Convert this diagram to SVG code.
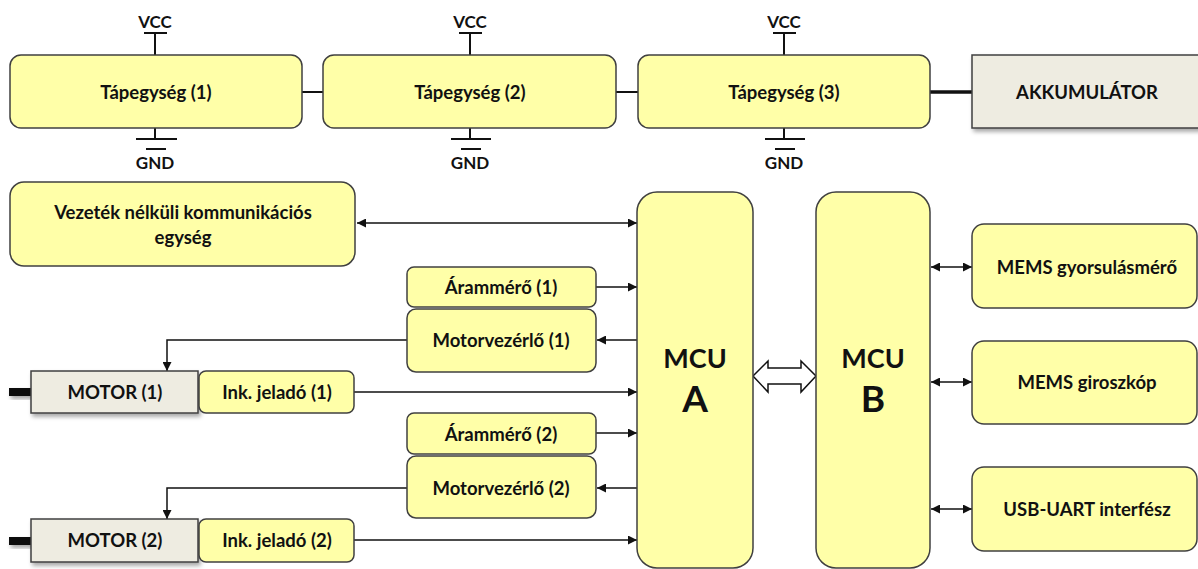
<svg xmlns="http://www.w3.org/2000/svg" width="1198" height="569" viewBox="0 0 1198 569">
<style>
.y{fill:#FFFFA8;stroke:#404040;stroke-width:1.5}
.g{fill:#EEECE1;stroke:#404040;stroke-width:1.5}
.t{font-family:Lato,"Open Sans","Liberation Sans",sans-serif;font-weight:bold;font-size:18.5px;fill:#111;text-anchor:middle}
.s{font-size:17px}
.big{font-size:27px}
.huge{font-size:37px}
.c{stroke:#111;stroke-width:1.5;fill:none}
.p{stroke:#111;stroke-width:2;fill:none}
</style>
<defs>
<marker id="ah" viewBox="0 0 10 10" refX="10" refY="5" markerWidth="10" markerHeight="9" markerUnits="userSpaceOnUse" orient="auto-start-reverse">
<path d="M0,0 L10,5 L0,10 Z" fill="#111"/>
</marker>
<filter id="sh" x="-10%" y="-20%" width="130%" height="160%">
<feDropShadow dx="2" dy="3" stdDeviation="2" flood-color="#000" flood-opacity="0.35"/>
</filter>
</defs>

<g id="connectors">
<line class="p" x1="302" y1="92" x2="323" y2="92"/>
<line class="p" x1="616" y1="92" x2="638" y2="92"/>
<line x1="930" y1="92" x2="972" y2="92" stroke="#111" stroke-width="3.5"/>
<path class="p" d="M155,55 V33 M144,33 H167"/>
<path class="p" d="M155,128 V139 M136,139 H177 M146,149 H166"/>
<path class="p" d="M470,55 V33 M459,33 H482"/>
<path class="p" d="M470,128 V139 M451,139 H491 M461,149 H481"/>
<path class="p" d="M784,55 V33 M773,33 H796"/>
<path class="p" d="M784,128 V139 M765,139 H805 M775,149 H795"/>
<line class="c" x1="357" y1="223" x2="637" y2="223" marker-start="url(#ah)" marker-end="url(#ah)"/>
<line class="c" x1="596" y1="287" x2="637" y2="287" marker-end="url(#ah)"/>
<line class="c" x1="637" y1="340" x2="597" y2="340" marker-end="url(#ah)"/>
<path class="c" d="M407,340 H167 V371" marker-end="url(#ah)"/>
<line class="c" x1="354" y1="392" x2="637" y2="392" marker-end="url(#ah)"/>
<line class="c" x1="596" y1="433" x2="637" y2="433" marker-end="url(#ah)"/>
<line class="c" x1="637" y1="488" x2="597" y2="488" marker-end="url(#ah)"/>
<path class="c" d="M407,488 H167 V519" marker-end="url(#ah)"/>
<line class="c" x1="354" y1="540" x2="637" y2="540" marker-end="url(#ah)"/>
<line class="c" x1="931" y1="267" x2="972" y2="267" marker-start="url(#ah)" marker-end="url(#ah)"/>
<line class="c" x1="931" y1="382" x2="972" y2="382" marker-start="url(#ah)" marker-end="url(#ah)"/>
<line class="c" x1="931" y1="509" x2="972" y2="509" marker-start="url(#ah)" marker-end="url(#ah)"/>
<polygon points="753,376 768,361 768,368 801,368 801,361 816,376 801,392 801,384 768,384 768,392" fill="#fff" stroke="#111" stroke-width="1.5"/>
</g>

<g id="vcc-labels">
<text class="t s" x="155" y="28">VCC</text>
<text class="t s" x="470" y="28">VCC</text>
<text class="t s" x="784" y="28">VCC</text>
<text class="t s" x="155" y="169">GND</text>
<text class="t s" x="470" y="169">GND</text>
<text class="t s" x="784" y="169">GND</text>
</g>

<g id="tap1"><rect class="y" x="10" y="55" width="292" height="73" rx="11"/><text class="t" x="156" y="99">Tápegység (1)</text></g>
<g id="tap2"><rect class="y" x="323" y="55" width="293" height="73" rx="11"/><text class="t" x="470" y="99">Tápegység (2)</text></g>
<g id="tap3"><rect class="y" x="638" y="55" width="292" height="73" rx="11"/><text class="t" x="784" y="99">Tápegység (3)</text></g>
<g id="akku"><rect class="g" x="972" y="55" width="240" height="73" filter="url(#sh)"/><text class="t" x="1087" y="99">AKKUMULÁTOR</text></g>

<g id="wireless"><rect class="y" x="10" y="182" width="345" height="84" rx="14"/><text class="t" x="183" y="219">Vezeték nélküli kommunikációs</text><text class="t" x="183" y="244">egység</text></g>

<g id="aram1"><rect class="y" x="407" y="267" width="189" height="40" rx="7"/><text class="t" x="501" y="294">Árammérő (1)</text></g>
<g id="motvez1"><rect class="y" x="407" y="309" width="189" height="63" rx="9"/><text class="t" x="501" y="347">Motorvezérlő (1)</text></g>
<g id="motor1"><rect x="9" y="388" width="23" height="8" fill="#111" filter="url(#sh)"/><rect class="g" x="31" y="371" width="167" height="42" filter="url(#sh)"/><text class="t" x="115" y="399">MOTOR (1)</text></g>
<g id="ink1"><rect class="y" x="199" y="371" width="155" height="42" rx="7"/><text class="t" x="277" y="399">Ink. jeladó (1)</text></g>

<g id="aram2"><rect class="y" x="407" y="413" width="189" height="41" rx="7"/><text class="t" x="501" y="441">Árammérő (2)</text></g>
<g id="motvez2"><rect class="y" x="407" y="456" width="189" height="62" rx="9"/><text class="t" x="501" y="495">Motorvezérlő (2)</text></g>
<g id="motor2"><rect x="9" y="537" width="23" height="8" fill="#111" filter="url(#sh)"/><rect class="g" x="31" y="519" width="167" height="43" filter="url(#sh)"/><text class="t" x="115" y="547">MOTOR (2)</text></g>
<g id="ink2"><rect class="y" x="199" y="519" width="155" height="43" rx="7"/><text class="t" x="277" y="547">Ink. jeladó (2)</text></g>

<g id="mcuA"><rect class="y" x="637" y="192" width="116" height="376" rx="20"/><text class="t big" x="695" y="368">MCU</text><text class="t huge" x="695" y="412">A</text></g>
<g id="mcuB"><rect class="y" x="816" y="192" width="114" height="376" rx="20"/><text class="t big" x="873" y="368">MCU</text><text class="t huge" x="873" y="412">B</text></g>

<g id="mems1"><rect class="y" x="972" y="224" width="225" height="84" rx="12"/><text class="t" x="1087" y="274">MEMS gyorsulásmérő</text></g>
<g id="mems2"><rect class="y" x="972" y="341" width="225" height="83" rx="12"/><text class="t" x="1087" y="389">MEMS giroszkóp</text></g>
<g id="usb"><rect class="y" x="972" y="467" width="225" height="84" rx="12"/><text class="t" x="1087" y="516">USB-UART interfész</text></g>
</svg>
